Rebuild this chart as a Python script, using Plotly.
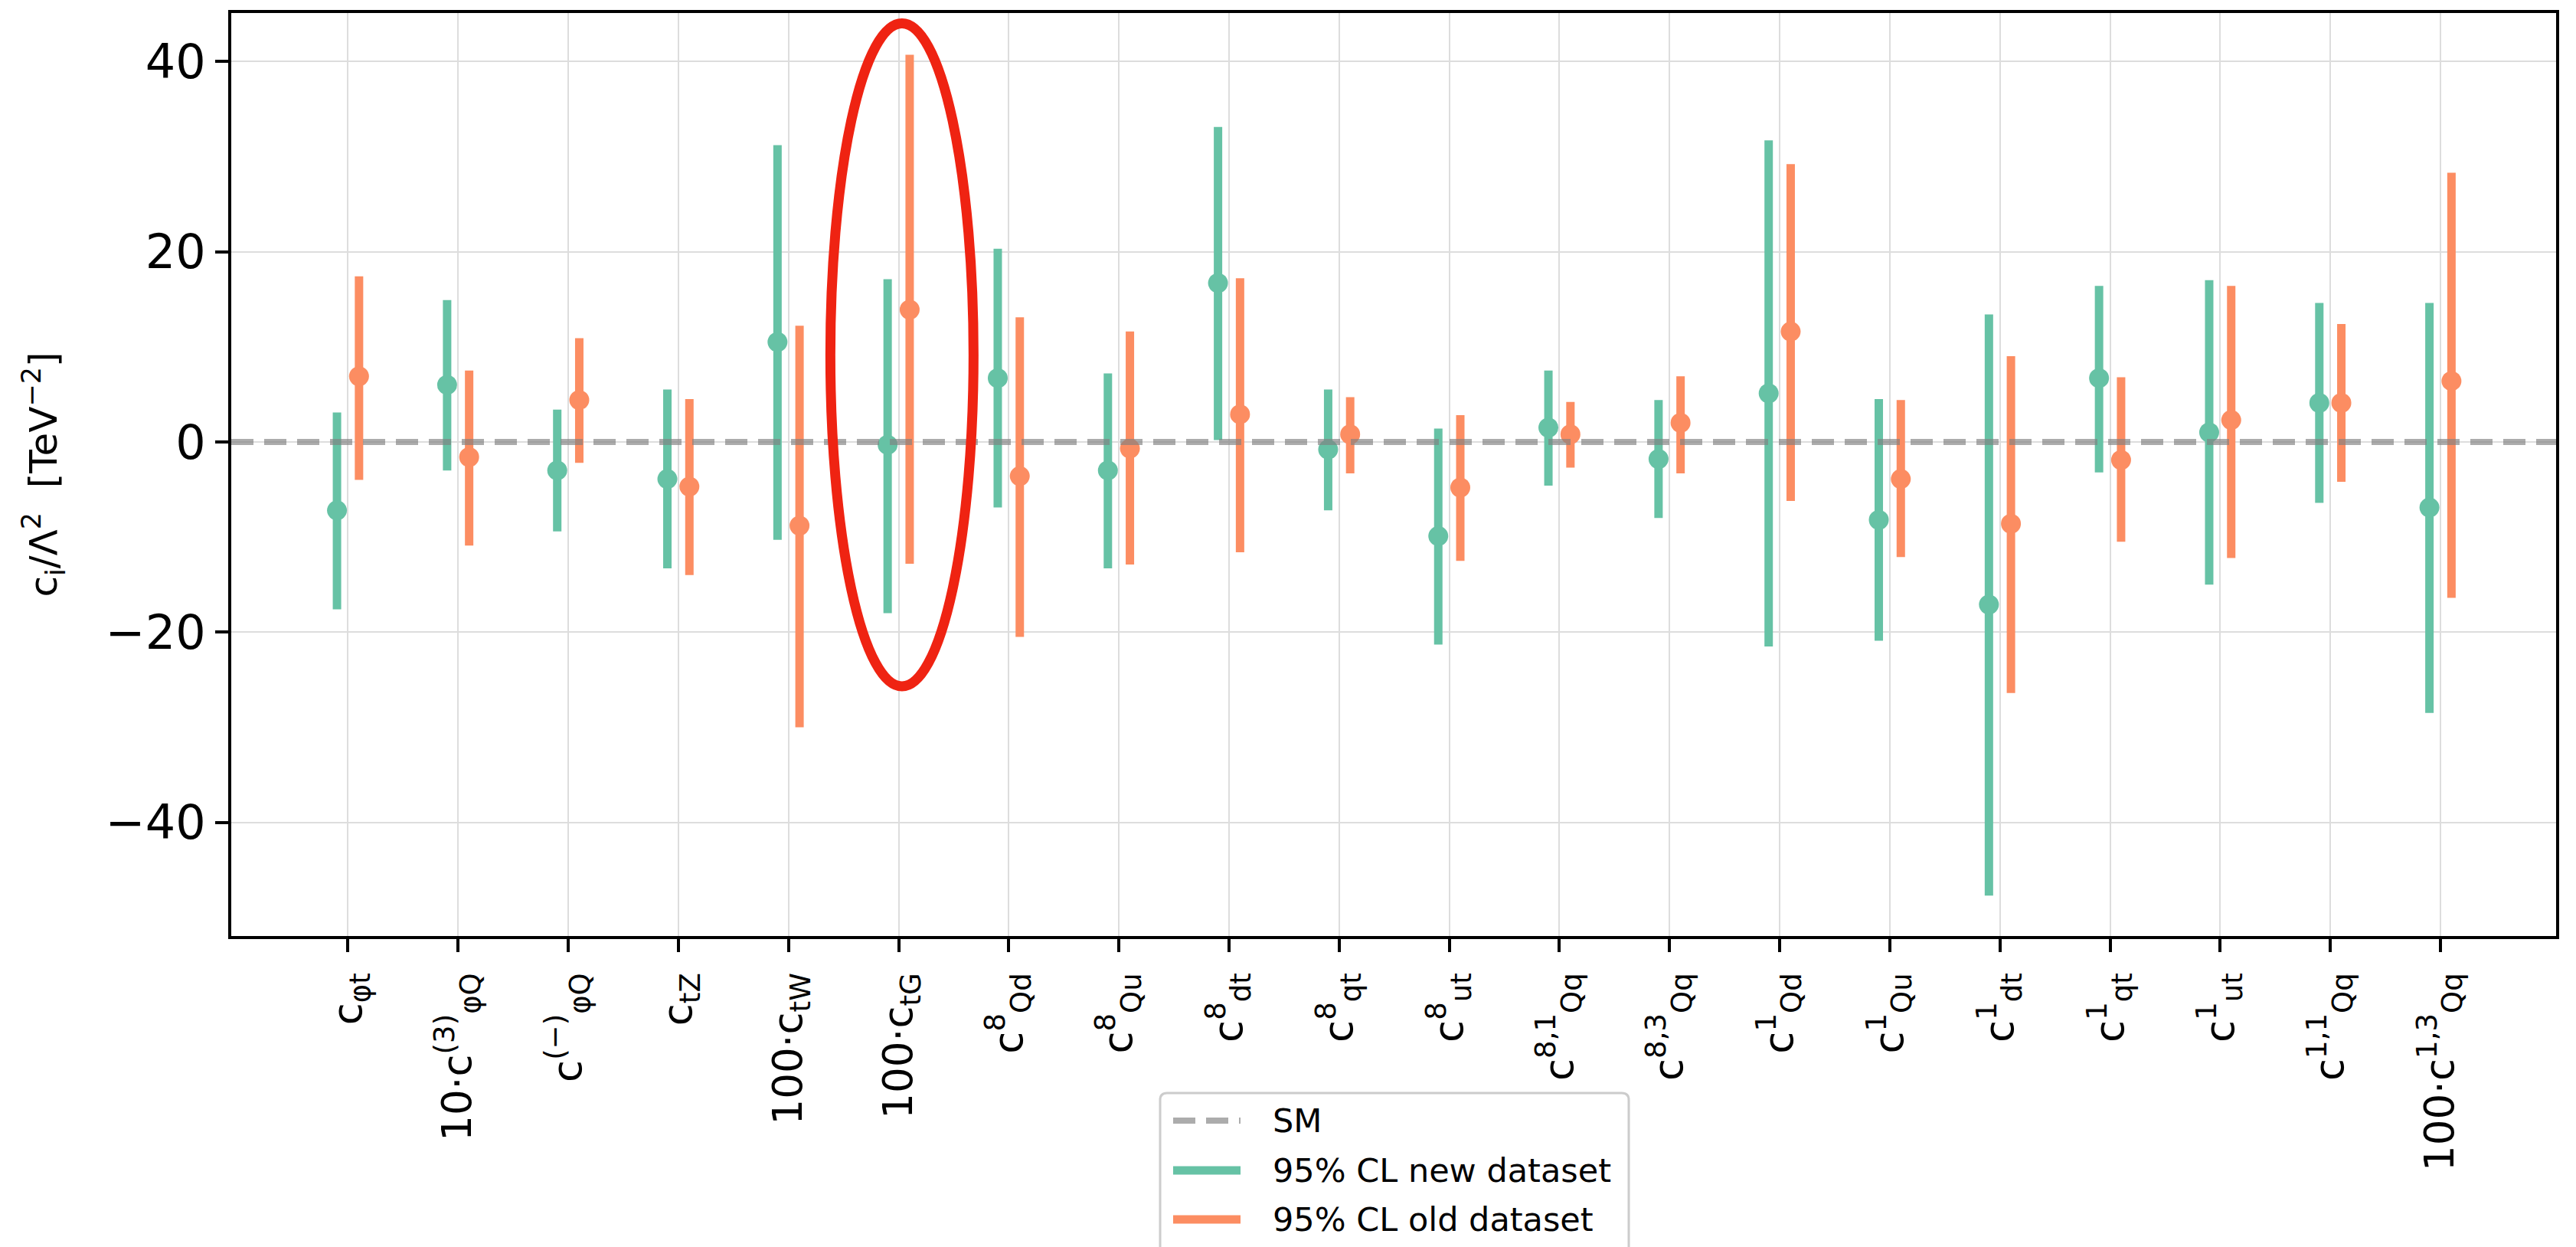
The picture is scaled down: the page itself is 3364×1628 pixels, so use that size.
import numpy as np
import plotly.graph_objects as go

# ---------------- data ----------------
labels = [
    "c<sub>φt</sub>",
    "10·c<sup>(3)</sup><sub>φQ</sub>",
    "c<sup>(−)</sup><sub>φQ</sub>",
    "c<sub>tZ</sub>",
    "100·c<sub>tW</sub>",
    "100·c<sub>tG</sub>",
    "c<sup>8</sup><sub>Qd</sub>",
    "c<sup>8</sup><sub>Qu</sub>",
    "c<sup>8</sup><sub>dt</sub>",
    "c<sup>8</sup><sub>qt</sub>",
    "c<sup>8</sup><sub>ut</sub>",
    "c<sup>8,1</sup><sub>Qq</sub>",
    "c<sup>8,3</sup><sub>Qq</sub>",
    "c<sup>1</sup><sub>Qd</sub>",
    "c<sup>1</sup><sub>Qu</sub>",
    "c<sup>1</sup><sub>dt</sub>",
    "c<sup>1</sup><sub>qt</sub>",
    "c<sup>1</sup><sub>ut</sub>",
    "c<sup>1,1</sup><sub>Qq</sub>",
    "100·c<sup>1,3</sup><sub>Qq</sub>",
]

new_center = [-7.2, 6.0, -3.0, -3.9, 10.5, -0.3, 6.7, -3.0, 16.7, -0.8,
              -9.9, 1.5, -1.8, 5.1, -8.2, -17.1, 6.7, 1.0, 4.1, -6.9]
new_high = [3.1, 14.9, 3.4, 5.5, 31.2, 17.1, 20.3, 7.2, 33.1, 5.5,
            1.4, 7.5, 4.4, 31.7, 4.5, 13.4, 16.4, 17.0, 14.6, 14.6]
new_low = [-17.6, -3.0, -9.4, -13.3, -10.3, -18.0, -6.9, -13.3, 0.2, -7.2,
           -21.3, -4.6, -8.0, -21.5, -20.9, -47.7, -3.2, -15.0, -6.4, -28.5]

old_center = [6.9, -1.6, 4.4, -4.7, -8.8, 13.9, -3.6, -0.7, 2.9, 0.8,
              -4.8, 0.8, 2.0, 11.6, -3.9, -8.6, -1.9, 2.3, 4.1, 6.4]
old_high = [17.4, 7.5, 10.9, 4.5, 12.2, 40.7, 13.1, 11.6, 17.2, 4.7,
            2.8, 4.2, 6.9, 29.2, 4.4, 9.0, 6.8, 16.4, 12.4, 28.3]
old_low = [-4.0, -10.9, -2.2, -14.0, -30.0, -12.8, -20.5, -12.9, -11.6, -3.3,
           -12.5, -2.7, -3.3, -6.2, -12.1, -26.4, -10.5, -12.2, -4.2, -16.4]

sm_value = 0.0
legend_names = ["SM", "95% CL new dataset", "95% CL old dataset"]

# highlight ellipse (data coordinates)
highlight_cat = 5.03
highlight_halfwidth = 0.65
highlight_ylow = -25.7
highlight_yhigh = 44.0

# ---------------- style ----------------
W, H = 3364, 1628
L, R, T, B = 302, 26, 17, 406
PW, PH = W - L - R, H - T - B
FONT = "DejaVu Sans"
GREEN = "#66c2a5"
ORANGE = "#fc8d62"
SMCOL = "rgba(128,128,128,0.65)"
RED = "#ef2312"
OFFSET = 0.1

n = len(labels)
idx = np.arange(n)
nc, nh, nl = map(np.array, (new_center, new_high, new_low))
oc, oh, ol = map(np.array, (old_center, old_high, old_low))

fig = go.Figure()
for xs, c, hi, lo, col in [(idx - OFFSET, nc, nh, nl, GREEN),
                           (idx + OFFSET, oc, oh, ol, ORANGE)]:
    fig.add_trace(go.Scatter(
        x=xs, y=c, mode="markers",
        marker=dict(size=26, color=col, line=dict(width=0)),
        error_y=dict(type="data", symmetric=False, array=hi - c, arrayminus=c - lo,
                     thickness=11, width=0, color=col),
        showlegend=False, hoverinfo="skip"))

# SM line
fig.add_shape(type="line", xref="paper", x0=0, x1=1, yref="y", y0=sm_value, y1=sm_value,
              line=dict(color=SMCOL, width=8, dash="29px,14px"), layer="above")
# highlight ellipse
fig.add_shape(type="circle", xref="x", yref="y",
              x0=highlight_cat - highlight_halfwidth, x1=highlight_cat + highlight_halfwidth,
              y0=highlight_ylow, y1=highlight_yhigh,
              line=dict(color=RED, width=13), layer="above")


def xp(px):
    return (px - L) / PW


def yp(py):
    return (H - B - py) / PH


# manual legend (matplotlib style)
bx0, bx1, by0, by1, rr = 1515, 2127, 1427, 1700, 9
path = (f"M {xp(bx0 + rr)},{yp(by0)} L {xp(bx1 - rr)},{yp(by0)} "
        f"Q {xp(bx1)},{yp(by0)} {xp(bx1)},{yp(by0 + rr)} "
        f"L {xp(bx1)},{yp(by1 - rr)} Q {xp(bx1)},{yp(by1)} {xp(bx1 - rr)},{yp(by1)} "
        f"L {xp(bx0 + rr)},{yp(by1)} Q {xp(bx0)},{yp(by1)} {xp(bx0)},{yp(by1 - rr)} "
        f"L {xp(bx0)},{yp(by0 + rr)} Q {xp(bx0)},{yp(by0)} {xp(bx0 + rr)},{yp(by0)} Z")
fig.add_shape(type="path", xref="paper", yref="paper", path=path,
              fillcolor="white", line=dict(color="#cccccc", width=3), layer="above")
item_y = [1463, 1528, 1592]
item_style = [dict(color=SMCOL, width=8, dash="29px,14px"),
              dict(color=GREEN, width=11), dict(color=ORANGE, width=11)]
for yy, st, name in zip(item_y, item_style, legend_names):
    fig.add_shape(type="line", xref="paper", yref="paper",
                  x0=xp(1532), x1=xp(1620), y0=yp(yy), y1=yp(yy), line=st, layer="above")
    fig.add_annotation(x=xp(1660), y=yp(yy), xref="paper", yref="paper",
                       text=name, showarrow=False, xanchor="left", yanchor="middle",
                       font=dict(family=FONT, size=43, color="black"))

axis_common = dict(showline=True, linecolor="black", linewidth=4, mirror=True,
                   ticks="outside", ticklen=17, tickwidth=3.5, tickcolor="black",
                   showgrid=True, gridcolor="#dddddd", gridwidth=2, zeroline=False,
                   automargin=False)

fig.update_layout(
    width=W, height=H,
    margin=dict(l=L, r=R, t=T, b=B, autoexpand=False),
    paper_bgcolor="white", plot_bgcolor="white",
    font=dict(family=FONT, color="black"),
    showlegend=False,
    xaxis=dict(range=[-1.06, 20.05], tickmode="array", tickvals=idx.tolist(),
               ticktext=labels, tickangle=-90, ticklabelstandoff=6,
               tickfont=dict(family=FONT, size=53, color="black"), **axis_common),
    yaxis=dict(range=[-51.94, 45.08], tickmode="array", tickvals=[-40, -20, 0, 20, 40],
               tickfont=dict(family=FONT, size=62, color="black"),
               title=dict(text="c<sub>i</sub>/Λ<sup>2</sup>&nbsp;&nbsp;[TeV<sup>−2</sup>]",
                          font=dict(family=FONT, size=50, color="black"), standoff=48),
               **axis_common),
)

fig.write_html("out.html", config={"displayModeBar": False},
               post_script="document.body.style.margin='0';document.body.style.overflow='hidden';")
